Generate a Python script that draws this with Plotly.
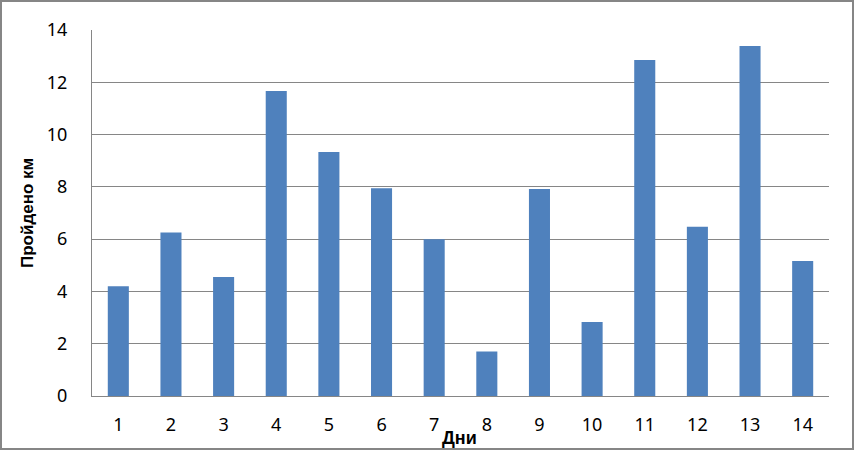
import plotly.graph_objects as go

days = [str(i) for i in range(1, 15)]
km = [4.2, 6.25, 4.55, 11.67, 9.33, 7.95, 6.0, 1.7, 7.92, 2.83, 12.85, 6.47, 13.39, 5.16]

W, H = 856, 451
L, R, T, B = 92, 27, 30, 55
pw, ph = W - L - R, H - T - B

fig = go.Figure()
fig.add_trace(go.Bar(x=days, y=km, marker=dict(color="#4f81bd", line=dict(width=0)), width=0.4))

tick_font = dict(family="Noto Sans, sans-serif", size=18, color="#000000")
title_font = dict(family="Liberation Sans, Arial, sans-serif", size=17, color="#000000")

fig.update_layout(
    width=W, height=H,
    margin=dict(l=L, r=R, t=T, b=B),
    paper_bgcolor="white", plot_bgcolor="white",
    showlegend=False,
    xaxis=dict(showgrid=False, showline=True, linecolor="#868686", linewidth=1,
               ticks="", ticklabelstandoff=12, tickfont=tick_font),
    yaxis=dict(range=[0, 14], dtick=2, showgrid=True, gridcolor="#868686", gridwidth=1,
               showline=True, linecolor="#868686", linewidth=1, zeroline=False,
               ticks="", ticklabelstandoff=20, tickfont=tick_font),
    annotations=[
        dict(text="<b>Дни</b>", xref="paper", yref="paper", x=(459 - L) / pw, y=-(438 - 396) / ph,
             showarrow=False, xanchor="center", yanchor="middle",
             font=dict(title_font, size=18)),
        dict(text="<b>Пройдено км</b>", xref="paper", yref="paper", x=-(L - 27) / pw, y=0.5,
             showarrow=False, xanchor="center", yanchor="middle", textangle=-90, font=title_font),
    ],
    shapes=[dict(type="rect", xref="paper", yref="paper",
                 x0=-(L - 1) / pw, x1=1 + (R - 3) / pw,
                 y0=-(B - 2) / ph, y1=1 + (T - 1) / ph,
                 line=dict(color="#868686", width=2))],
)

fig.write_html("out.html", config={"displayModeBar": False},
               post_script="document.body.style.margin='0';")
